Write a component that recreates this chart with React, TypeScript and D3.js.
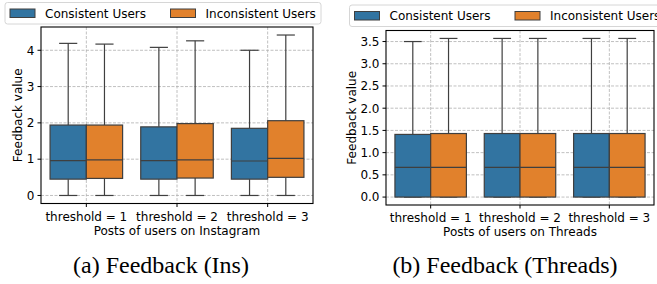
import * as d3 from 'd3';

// categories / series
const categories = ["threshold = 1", "threshold = 2", "threshold = 3"];
const hues = ["Consistent Users", "Inconsistent Users"];
const hueColors = ["#3274a1", "#e1812c"];

// box stats per category: [whiskerLow, q1, median, q3, whiskerHigh]
const insConsistent = [
  [0, 0.45, 0.96, 1.94, 4.19],
  [0, 0.45, 0.96, 1.89, 4.08],
  [0, 0.45, 0.95, 1.85, 4.0],
];
const insInconsistent = [
  [0, 0.47, 0.98, 1.94, 4.17],
  [0, 0.48, 0.98, 1.98, 4.26],
  [0, 0.5, 1.02, 2.06, 4.42],
];
const thrConsistent = [
  [0, 0, 0.67, 1.41, 3.5],
  [0, 0, 0.67, 1.43, 3.57],
  [0, 0, 0.67, 1.43, 3.57],
];
const thrInconsistent = [
  [0, 0, 0.67, 1.43, 3.57],
  [0, 0, 0.67, 1.43, 3.57],
  [0, 0, 0.67, 1.43, 3.57],
];

const insTicks = [0, 1, 2, 3, 4];
const thrTicks = [0, 0.5, 1.0, 1.5, 2.0, 2.5, 3.0, 3.5];

const FONT = "'DejaVu Sans', sans-serif";
const LINE = "#3f3f3f";

interface PanelProps {
  left: number;
  right: number;
  top: number;
  bottom: number;
  series: number[][][];
  ticks: number[];
  tickFmt: (v: number) => string;
  xTitle: string;
  yTitleX: number;
  legendX: number;
  legendY: number;
  caption: string;
  captionX: number;
}

function Panel(p: PanelProps) {
  const all = p.series.flat(2);
  const lo = d3.min(all) ?? 0;
  const hi = d3.max(all) ?? 1;
  const pad = (hi - lo) * 0.05;
  const y = d3.scaleLinear().domain([lo - pad, hi + pad]).range([p.bottom, p.top]);
  const x = d3.scaleBand().domain(categories).range([p.left, p.right]).padding(0);
  const bw = x.bandwidth();

  const boxes: JSX.Element[] = [];
  categories.forEach((cat, ci) => {
    const c = (x(cat) as number) + bw / 2;
    const inner = d3.scaleBand().domain(hues).range([c - bw * 0.4, c + bw * 0.4]).padding(0);
    hues.forEach((h, hi2) => {
      const [wl, q1, med, q3, wh] = p.series[hi2][ci];
      const bx = inner(h) as number;
      const w = inner.bandwidth();
      const cx = bx + w / 2;
      const cap = w * 0.25;
      boxes.push(
        <g key={`${ci}-${hi2}`}>
          <line x1={cx} x2={cx} y1={y(q1)} y2={y(wl)} stroke={LINE} strokeWidth={1.2} />
          <line x1={cx} x2={cx} y1={y(q3)} y2={y(wh)} stroke={LINE} strokeWidth={1.2} />
          <line x1={cx - cap} x2={cx + cap} y1={y(wl)} y2={y(wl)} stroke={LINE} strokeWidth={1.2} />
          <line x1={cx - cap} x2={cx + cap} y1={y(wh)} y2={y(wh)} stroke={LINE} strokeWidth={1.2} />
          <rect x={bx} y={y(q3)} width={w} height={y(q1) - y(q3)} fill={hueColors[hi2]} stroke={LINE} strokeWidth={1.2} />
          <line x1={bx} x2={bx + w} y1={y(med)} y2={y(med)} stroke={LINE} strokeWidth={1.2} />
        </g>
      );
    });
  });

  const midX = (p.left + p.right) / 2;
  const midY = (p.top + p.bottom) / 2;

  return (
    <g>
      {/* grid */}
      {p.ticks.map(t => (
        <line key={`gy${t}`} x1={p.left} x2={p.right} y1={y(t)} y2={y(t)} stroke="#b0b0b0" strokeWidth={0.8} strokeDasharray="3,1.5" />
      ))}
      {categories.map(cat => {
        const cx = (x(cat) as number) + bw / 2;
        return <line key={`gx${cat}`} x1={cx} x2={cx} y1={p.top} y2={p.bottom} stroke="#b0b0b0" strokeWidth={0.8} strokeDasharray="3,1.5" />;
      })}
      {boxes}
      {/* spines */}
      <rect x={p.left} y={p.top} width={p.right - p.left} height={p.bottom - p.top} fill="none" stroke="#000" strokeWidth={1.1} />
      {/* y ticks */}
      {p.ticks.map(t => (
        <g key={`ty${t}`}>
          <line x1={p.left - 3.5} x2={p.left} y1={y(t)} y2={y(t)} stroke="#000" strokeWidth={1} />
          <text x={p.left - 6.5} y={y(t)} dy="0.36em" textAnchor="end" fontSize={12} fontFamily={FONT} fill="#000">{p.tickFmt(t)}</text>
        </g>
      ))}
      {/* x ticks */}
      {categories.map(cat => {
        const cx = (x(cat) as number) + bw / 2;
        return (
          <g key={`tx${cat}`}>
            <line x1={cx} x2={cx} y1={p.bottom} y2={p.bottom + 3.5} stroke="#000" strokeWidth={1} />
            <text x={cx} y={p.bottom + 17} textAnchor="middle" fontSize={12} fontFamily={FONT} fill="#000">{cat}</text>
          </g>
        );
      })}
      <text x={midX} y={p.bottom + 31} textAnchor="middle" fontSize={12} fontFamily={FONT} fill="#000">{p.xTitle}</text>
      <text transform={`translate(${p.yTitleX},${midY}) rotate(-90)`} textAnchor="middle" dy="0.36em" fontSize={12} fontFamily={FONT} fill="#000">Feedback value</text>
      {/* legend */}
      <g transform={`translate(${p.legendX},${p.legendY})`}>
        <rect x={0} y={0} width={316} height={21.5} rx={2.5} fill="#fff" fillOpacity={0.8} stroke="#d6d6d6" strokeWidth={1} />
        {hues.map((h, i) => (
          <g key={h} transform={`translate(${5 + i * 160.5},0)`}>
            <rect x={0} y={6.5} width={25} height={8.5} fill={hueColors[i]} stroke={LINE} strokeWidth={1} />
            <text x={35} y={10.75} dy="0.36em" fontSize={12} fontFamily={FONT} fill="#000">{h}</text>
          </g>
        ))}
      </g>
      <text x={p.captionX} y={273} textAnchor="middle" fontSize={24} fontFamily="'Liberation Serif', 'Times New Roman', serif" fill="#000">{p.caption}</text>
    </g>
  );
}

export default function App() {
  return (
    <svg width={657} height={284} style={{ position: 'absolute', left: 0, top: 0, background: '#fff' }}>
      <rect width={657} height={284} fill="#fff" />
      <Panel
        left={41} right={313} top={27} bottom={203.5}
        series={[insConsistent, insInconsistent]}
        ticks={insTicks}
        tickFmt={v => d3.format("d")(v)}
        xTitle="Posts of users on Instagram"
        yTitleX={18}
        legendX={5} legendY={2.5}
        caption="(a) Feedback (Ins)" captionX={161}
      />
      <Panel
        left={386} right={654} top={30.5} bottom={205}
        series={[thrConsistent, thrInconsistent]}
        ticks={thrTicks}
        tickFmt={v => d3.format(".1f")(v)}
        xTitle="Posts of users on Threads"
        yTitleX={352}
        legendX={349.5} legendY={5}
        caption="(b) Feedback (Threads)" captionX={505}
      />
    </svg>
  );
}
